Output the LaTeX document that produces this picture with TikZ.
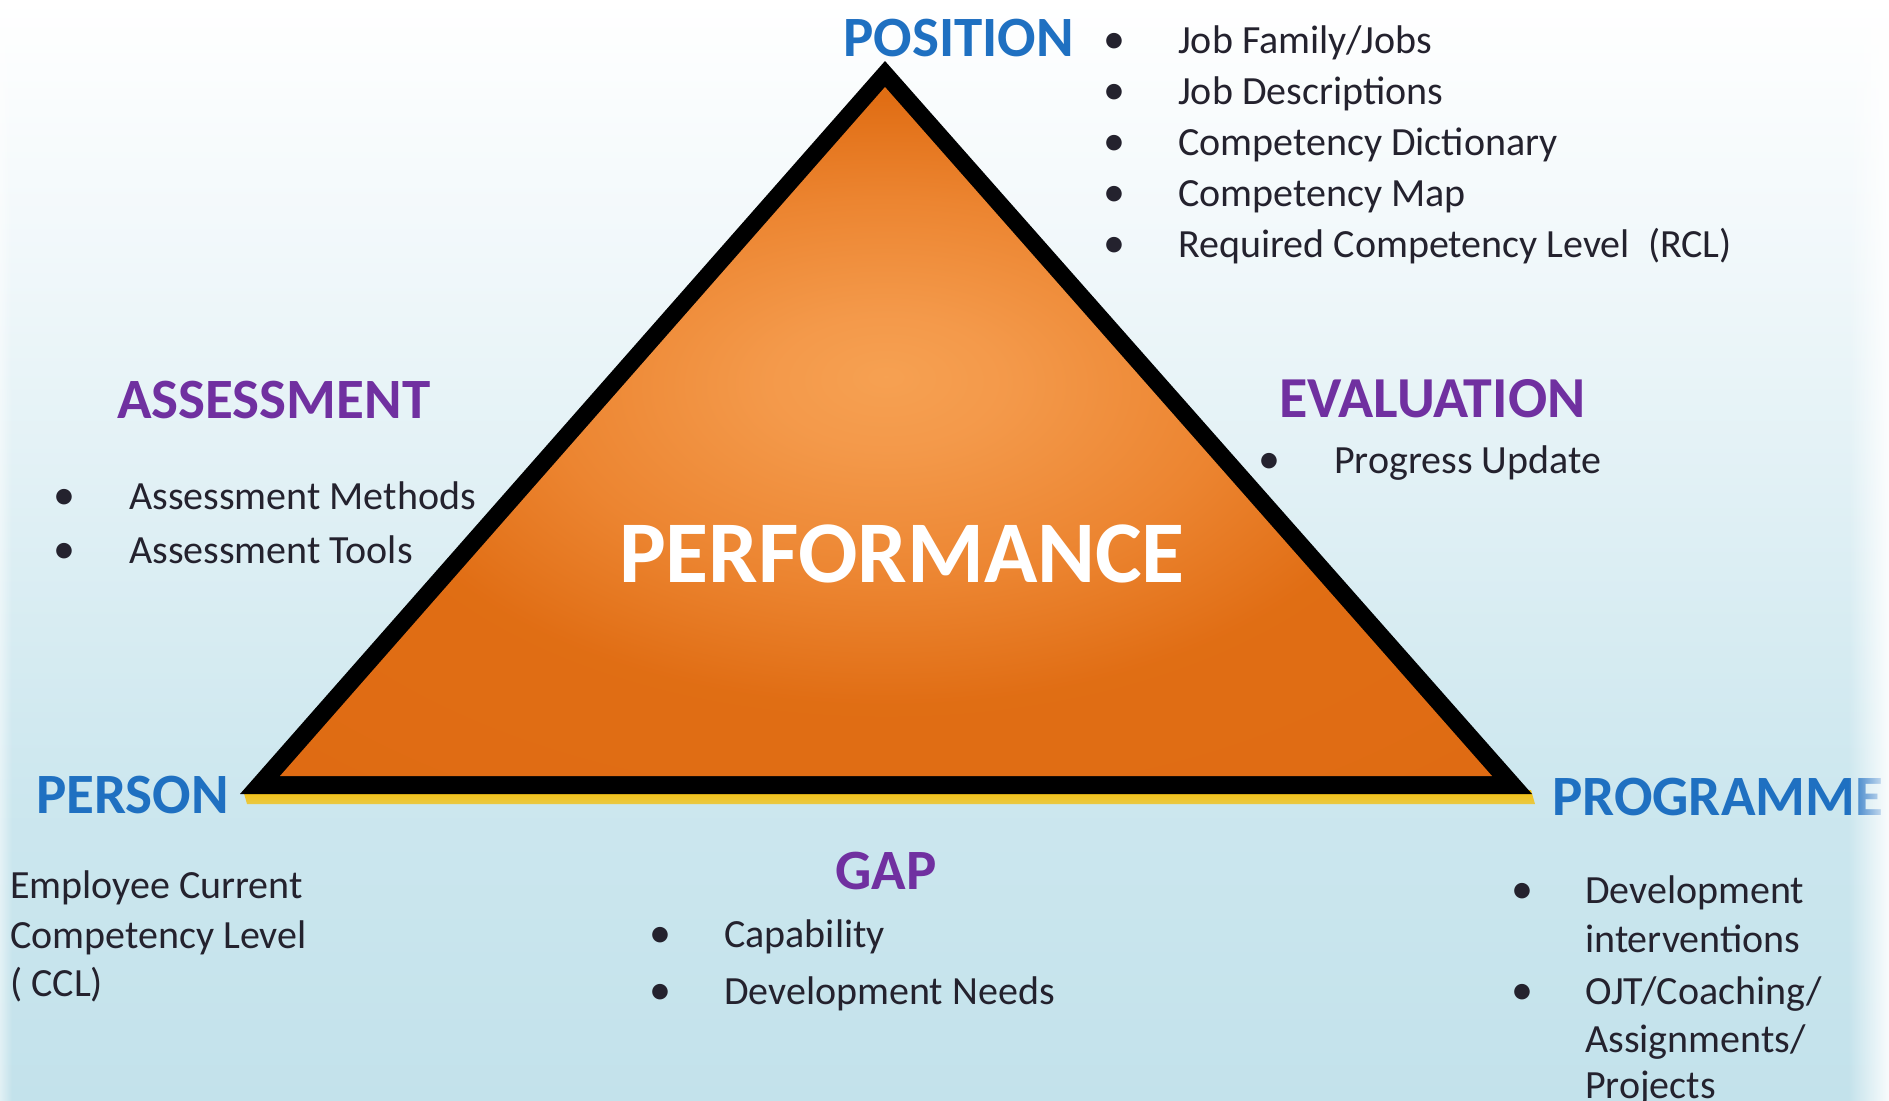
\documentclass[tikz,border=0pt]{standalone}
\usepackage{fontspec}
\setmainfont{Carlito}
\usetikzlibrary{fadings}
\definecolor{headblue}{HTML}{1F70C1}
\definecolor{headpurple}{HTML}{7030A0}
\definecolor{bodytext}{HTML}{24222E}
\definecolor{yel}{HTML}{F5C00C}
\definecolor{bgbottom}{HTML}{C3E2EB}
\pgfdeclareverticalshading{bgsh}{100bp}{rgb(0bp)=(0.765,0.886,0.922); rgb(25bp)=(0.765,0.886,0.922); rgb(38.6bp)=(0.80,0.905,0.935); rgb(50bp)=(0.865,0.935,0.955); rgb(63.6bp)=(0.945,0.972,0.982); rgb(75bp)=(1,1,1); rgb(100bp)=(1,1,1)}
\pgfdeclareradialshading{trish}{\pgfpoint{0bp}{4bp}}{rgb(0bp)=(0.965,0.63,0.32); rgb(5bp)=(0.955,0.60,0.29); rgb(14bp)=(0.925,0.52,0.19); rgb(22bp)=(0.88,0.43,0.08); rgb(50bp)=(0.87,0.41,0.07)}
\tikzfading[name=edgefade, left color=transparent!100, right color=transparent!0]
\tikzfading[name=edgefadeL, left color=transparent!0, right color=transparent!100]
\begin{document}
\begin{tikzpicture}[x=1pt,y=-1pt,
  txt/.style={inner sep=0pt, anchor=base west, text=bodytext, font=\fontsize{40}{48}\selectfont},
  bul/.style={inner sep=0pt, anchor=base, text=bodytext, font=\fontsize{44}{48}\selectfont},
  headb/.style={inner sep=0pt, anchor=base west, text=headblue, font=\fontsize{57}{60}\selectfont\bfseries},
  headp/.style={inner sep=0pt, anchor=base west, text=headpurple, font=\fontsize{57}{60}\selectfont\bfseries}]
\useasboundingbox (0,0) rectangle (1889,1100);
% background
\shade[shading=bgsh] (0,0) rectangle (1889,1100);
% yellow shadow under base
\shade[top color=yel, bottom color=yel!75!bgbottom] (243,790) -- (1531,790) -- (1535,804) -- (247,804) -- cycle;
% triangle
\fill[black] (885,61) -- (1532,794) -- (240,794) -- cycle;
\shade[shading=trish] (885,87) -- (1492,776) -- (280,776) -- cycle;
\node[inner sep=0pt, anchor=base, text=white, font=\fontsize{88}{90}\selectfont\bfseries] (perf) at (902,582) {PERFORMANCE};
% POSITION
\node[headb] (position) at (843,56) {POSITION};
\node[bul] (pb1) at (1114,53) {•};
\node[txt] (pt1) at (1178,53) {Job Family/Jobs};
\node[bul] (pb2) at (1114,104) {•};
\node[txt] (pt2) at (1178,104) {Job Descriptions};
\node[bul] (pb3) at (1114,155) {•};
\node[txt] (pt3) at (1178,155) {Competency Dictionary};
\node[bul] (pb4) at (1114,206) {•};
\node[txt] (pt4) at (1178,206) {Competency Map};
\node[bul] (pb5) at (1114,257) {•};
\node[txt] (pt5) at (1178,257) {Required Competency Level~~(RCL)};
% ASSESSMENT
\node[headp] (assessment) at (117,418) {ASSESSMENT};
\node[bul] (ab1) at (64,509) {•};
\node[txt] (at1) at (129,509) {Assessment Methods};
\node[bul] (ab2) at (64,563) {•};
\node[txt] (at2) at (129,563) {Assessment Tools};
% EVALUATION
\node[headp, font=\fontsize{58}{60}\selectfont\bfseries] (evaluation) at (1279,417) {EVALUATION};
\node[bul] (eb1) at (1269,473) {•};
\node[txt] (et1) at (1334,473) {Progress Update};
% PERSON
\node[headb] (person) at (36,813) {PERSON};
\node[txt] (pe1) at (10,898) {Employee Current};
\node[txt] (pe2) at (10,948) {Competency Level};
\node[txt] (pe3) at (10,996) {( CCL)};
% GAP
\node[headp] (gap) at (835,889) {GAP};
\node[bul] (gb1) at (660,947) {•};
\node[txt] (gt1) at (724,947) {Capability};
\node[bul] (gb2) at (660,1004) {•};
\node[txt] (gt2) at (724,1004) {Development Needs};
% PROGRAMME
\node[headb] (programme) at (1552,815) {PROGRAMME};
\node[bul] (rb1) at (1522,903) {•};
\node[txt] (rt1) at (1585,903) {Development};
\node[txt] (rt2) at (1585,952) {interventions};
\node[bul] (rb2) at (1522,1004) {•};
\node[txt] (rt3) at (1585,1004) {OJT/Coaching/};
\node[txt] (rt4) at (1585,1052) {Assignments/};
\node[txt] (rt5) at (1585,1098) {Projects};
% edge glows
\fill[white, path fading=edgefade, fill opacity=0.9] (1848,0) rectangle (1889,1100);
\fill[white, path fading=edgefadeL, fill opacity=0.5] (0,0) rectangle (12,1100);
\end{tikzpicture}
\end{document}
